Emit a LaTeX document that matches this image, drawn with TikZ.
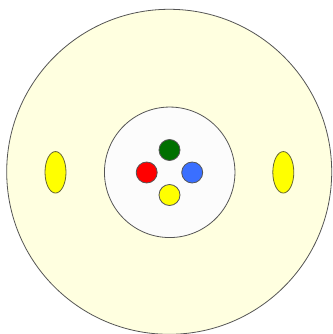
\documentclass[tikz,border=0pt]{standalone}
\usetikzlibrary{shapes.geometric}
\definecolor{outerfill}{HTML}{FFFFE0}
\definecolor{innerfill}{HTML}{FCFCFC}
\definecolor{dgreen}{HTML}{007000}
\definecolor{myblue}{HTML}{3A6FFF}
\definecolor{myred}{HTML}{FF0000}
\definecolor{myyellow}{HTML}{FFFF00}
\definecolor{edge}{HTML}{555555}
\definecolor{podedge}{HTML}{666633}
\begin{document}
\begin{tikzpicture}[x=1pt,y=-1pt,
  disk/.style={circle,draw=edge,line width=0.8pt,inner sep=0pt,minimum size=21pt},
  pod/.style={ellipse,draw=podedge,line width=0.8pt,fill=myyellow,inner sep=0pt,minimum width=21pt,minimum height=41.5pt}]
\useasboundingbox (0,0) rectangle (332,334);
\fill[white] (0,0) rectangle (332,334);
\node[circle,draw=edge,line width=0.8pt,fill=outerfill,inner sep=0pt,minimum size=325pt] (outer) at (169.2,171.8) {};
\node[circle,draw=edge,line width=0.8pt,fill=innerfill,inner sep=0pt,minimum size=130.5pt] (inner) at (169.7,172.3) {};
\node[disk,fill=dgreen] (g) at (169.5,150) {};
\node[disk,fill=myred] (r) at (146.7,172.5) {};
\node[disk,fill=myblue] (b) at (192.2,172.5) {};
\node[disk,fill=myyellow] (y) at (169.5,195) {};
\node[pod] (el) at (55.5,172.3) {};
\node[pod] (er) at (283.3,172.3) {};
\end{tikzpicture}
\end{document}
